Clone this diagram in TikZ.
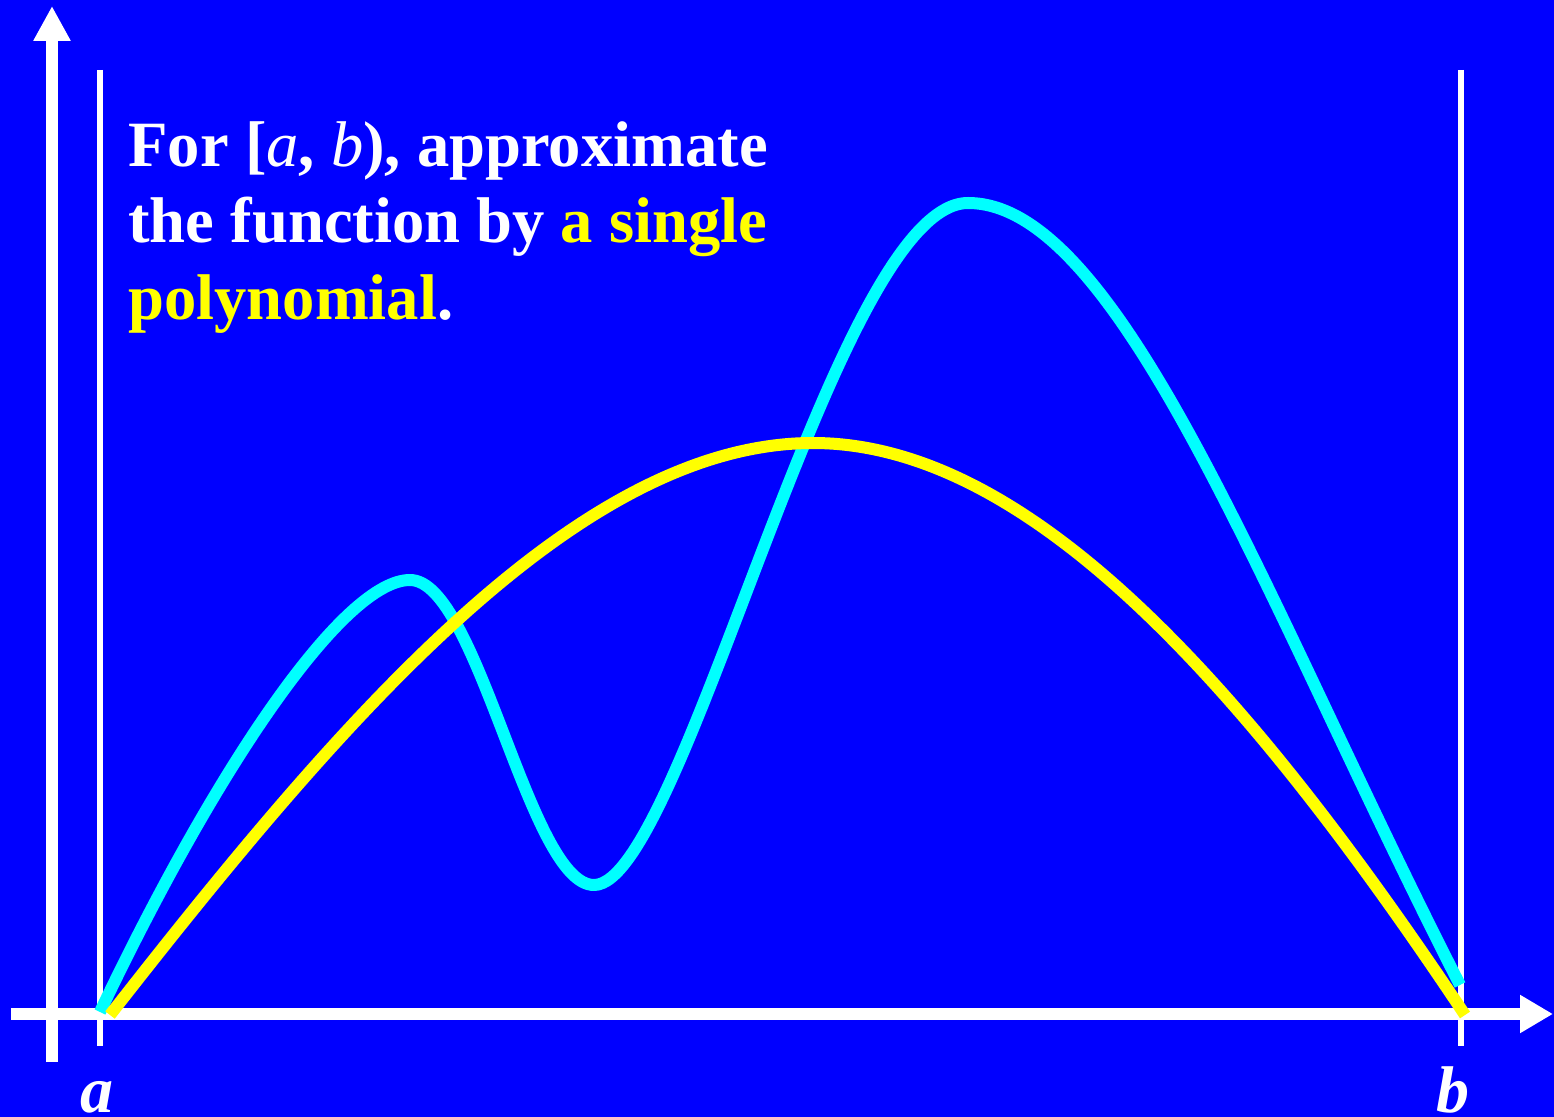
\documentclass[tikz,border=0pt]{standalone}
\usepackage{fontspec}
\setmainfont{Liberation Serif}
\usetikzlibrary{arrows.meta}
\definecolor{bgblue}{RGB}{0,0,255}
\definecolor{fcyan}{RGB}{0,255,255}
\definecolor{pyellow}{RGB}{255,255,0}
\tikzset{
  axisline/.style={draw=white, line width=6pt},
  guideline/.style={draw=white, line width=3pt},
  fcurve/.style={draw=fcyan, line width=6pt, line join=round},
  pcurve/.style={draw=pyellow, line width=6pt, line join=round},
  bigtext/.style={inner sep=0pt, anchor=base west, text=white, font=\fontsize{32.3}{38}\selectfont\bfseries},
  endlabel/.style={inner sep=0pt, anchor=base, text=white, font=\fontsize{33}{38}\selectfont\bfseries\itshape}
}
\begin{document}
\begin{tikzpicture}[x=0.5pt,y=-0.5pt]
\fill[bgblue] (0,0) rectangle (1554,1117);
\useasboundingbox (0,0) rectangle (1554,1117);
% axes
\coordinate (ybot) at (52,1062);
\coordinate (ytop) at (52,6);
\coordinate (xleft) at (11,1014);
\coordinate (xright) at (1553,1014);
\draw[axisline, -{Triangle[width=17.5pt,length=17.5pt]}] (ybot) -- (ytop);
\draw[axisline, -{Triangle[width=18pt,length=16.5pt]}] (xleft) -- (xright);
% guide lines at a and b
\coordinate (atop) at (100,70);
\coordinate (abot) at (100,1046);
\coordinate (btop) at (1461,70);
\coordinate (bbot) at (1461,1046);
\draw[guideline] (atop) -- (abot);
\draw[guideline] (btop) -- (bbot);
% function (cyan)
\draw[fcurve] (100,1012)
  .. controls (220,760) and (345,580) .. (410,580)
  .. controls (478,580) and (529,885) .. (594,885)
  .. controls (684,885) and (835,203) .. (968,203)
  .. controls (1123,203) and (1270,614.5) .. (1460,985);
% polynomial (yellow)
\draw[pcurve] (110,1015)
  .. controls (344.3,715) and (578.7,443) .. (813,443)
  .. controls (1030.3,443) and (1247.7,689) .. (1465,1015);
% text
\node[bigtext] (t1) at (128,167) {For [\textmd{\textit{a}}, \textmd{\textit{b}}), approximate};
\node[bigtext] (t2) at (128,243) {the function by \textcolor{pyellow}{a single}};
\node[bigtext] (t3) at (128,320) {\textcolor{pyellow}{polynomial}.};
% end labels
\node[endlabel] (la) at (97,1112) {a};
\node[endlabel] (lb) at (1453,1112) {b};
\end{tikzpicture}
\end{document}
